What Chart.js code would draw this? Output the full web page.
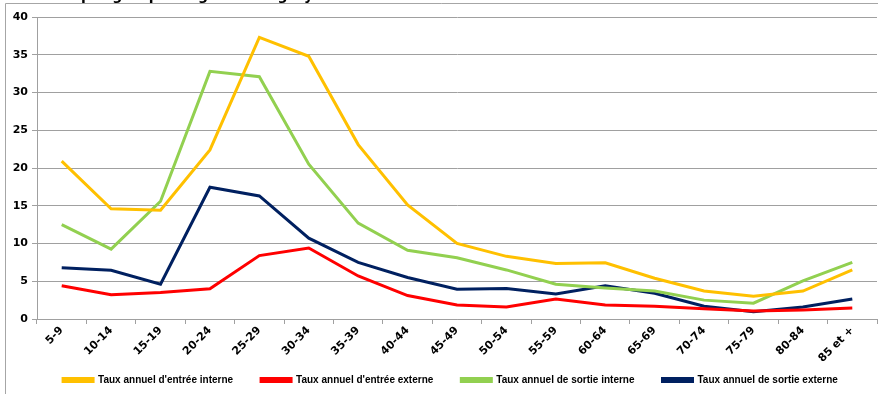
<!DOCTYPE html>
<html>
<head>
<meta charset="utf-8">
<script src="https://cdn.jsdelivr.net/npm/chart.js@4"></script>
<style>
  html, body { margin: 0; padding: 0; background: #fff; }
  #wrap { width: 878px; height: 394px; position: relative; }
</style>
</head>
<body>
<div id="wrap"><canvas id="chart"></canvas></div>
<script>
var ageGroups = ['5-9', '10-14', '15-19', '20-24', '25-29', '30-34', '35-39', '40-44', '45-49',
    '50-54', '55-59', '60-64', '65-69', '70-74', '75-79', '80-84', '85 et +'];

var entreeInterne = [20.9, 14.6, 14.4, 22.4, 37.3, 34.8, 23.1, 15.1, 10.0, 8.3, 7.35, 7.45, 5.4, 3.7, 3.0, 3.7, 6.5];
var entreeExterne = [4.4, 3.2, 3.5, 4.0, 8.4, 9.4, 5.7, 3.1, 1.85, 1.6, 2.65, 1.85, 1.7, 1.35, 1.05, 1.2, 1.45];
var sortieInterne = [12.5, 9.25, 15.6, 32.8, 32.1, 20.5, 12.7, 9.1, 8.1, 6.5, 4.6, 4.1, 3.7, 2.5, 2.1, 5.05, 7.5];
var sortieExterne = [6.8, 6.45, 4.6, 17.45, 16.3, 10.7, 7.5, 5.5, 3.95, 4.05, 3.3, 4.4, 3.4, 1.7, 0.95, 1.6, 2.65];

var seriesNames = ["Taux annuel d'entrée interne", "Taux annuel d'entrée externe",
    'Taux annuel de sortie interne', 'Taux annuel de sortie externe'];
var seriesColors = ['#FFC000', '#FF0000', '#92D050', '#002060'];

var yTicks = [0, 5, 10, 15, 20, 25, 30, 35, 40];

function makeSet(i, values) {
    return {
        label: seriesNames[i],
        data: values,
        borderColor: seriesColors[i],
        backgroundColor: seriesColors[i],
        borderWidth: 3,
        pointRadius: 0,
        tension: 0,
        fill: false
    };
}

// outer frame + cropped title at the top
var framePlugin = {
    id: 'frame',
    afterLayout: function (chart) {
        // lift the legend row into the x labels' spare room, nudge it right
        var lg = chart.legend;
        lg.top -= 14;
        lg.bottom -= 14;
        lg.left += 12;
        lg.right += 12;
    },
    beforeDraw: function (chart) {
        var ctx = chart.ctx;
        ctx.save();
        ctx.strokeStyle = '#a6a6a6';
        ctx.lineWidth = 1;
        ctx.beginPath();
        ctx.moveTo(5.5, 394);
        ctx.lineTo(5.5, 3.5);
        ctx.lineTo(878, 3.5);
        ctx.stroke();
        ctx.font = 'bold 14px "DejaVu Sans"';
        ctx.fillStyle = '#000';
        ctx.textBaseline = 'alphabetic';
        ctx.fillText('Taux par groupe d\u2019âge et catégory', 40, 0);
        ctx.restore();
    }
};

var ctx = document.getElementById('chart');
var chart = new Chart(ctx, {
    type: 'line',
    data: {
        labels: ageGroups,
        datasets: [
            makeSet(0, entreeInterne),
            makeSet(1, entreeExterne),
            makeSet(2, sortieInterne),
            makeSet(3, sortieExterne)
        ]
    },
    options: {
        responsive: true,
        maintainAspectRatio: false,
        animation: false,
        layout: {
            padding: { left: 0, right: 1, top: 17, bottom: -15 }
        },
        plugins: {
            legend: {
                position: 'bottom',
                labels: {
                    boxWidth: 30,
                    boxHeight: 3,
                    padding: 28,
                    color: '#000',
                    font: { family: '"Liberation Sans"', size: 10, weight: 'bold' }
                }
            },
            tooltip: { enabled: false }
        },
        scales: {
            x: {
                offset: true,
                grid: {
                    offset: true,
                    drawOnChartArea: false,
                    tickLength: 5,
                    color: '#a0a0a0'
                },
                border: { color: '#a0a0a0' },
                ticks: {
                    maxRotation: 45,
                    minRotation: 45,
                    color: '#000',
                    padding: 0,
                    font: { family: '"DejaVu Sans"', size: 11, weight: 'bold' }
                },
                afterFit: function (scale) { scale.height = 42; }
            },
            y: {
                min: 0,
                max: 40,
                afterBuildTicks: function (scale) {
                    scale.ticks = yTicks.map(function (v) { return { value: v }; });
                },
                grid: {
                    color: '#a0a0a0',
                    tickLength: 5
                },
                border: { color: '#a0a0a0' },
                ticks: {
                    color: '#000',
                    padding: 4,
                    font: { family: '"DejaVu Sans"', size: 11, weight: 'bold' }
                },
                afterFit: function (scale) { scale.width = 37; }
            }
        }
    },
    plugins: [framePlugin]
});
</script>
</body>
</html>
